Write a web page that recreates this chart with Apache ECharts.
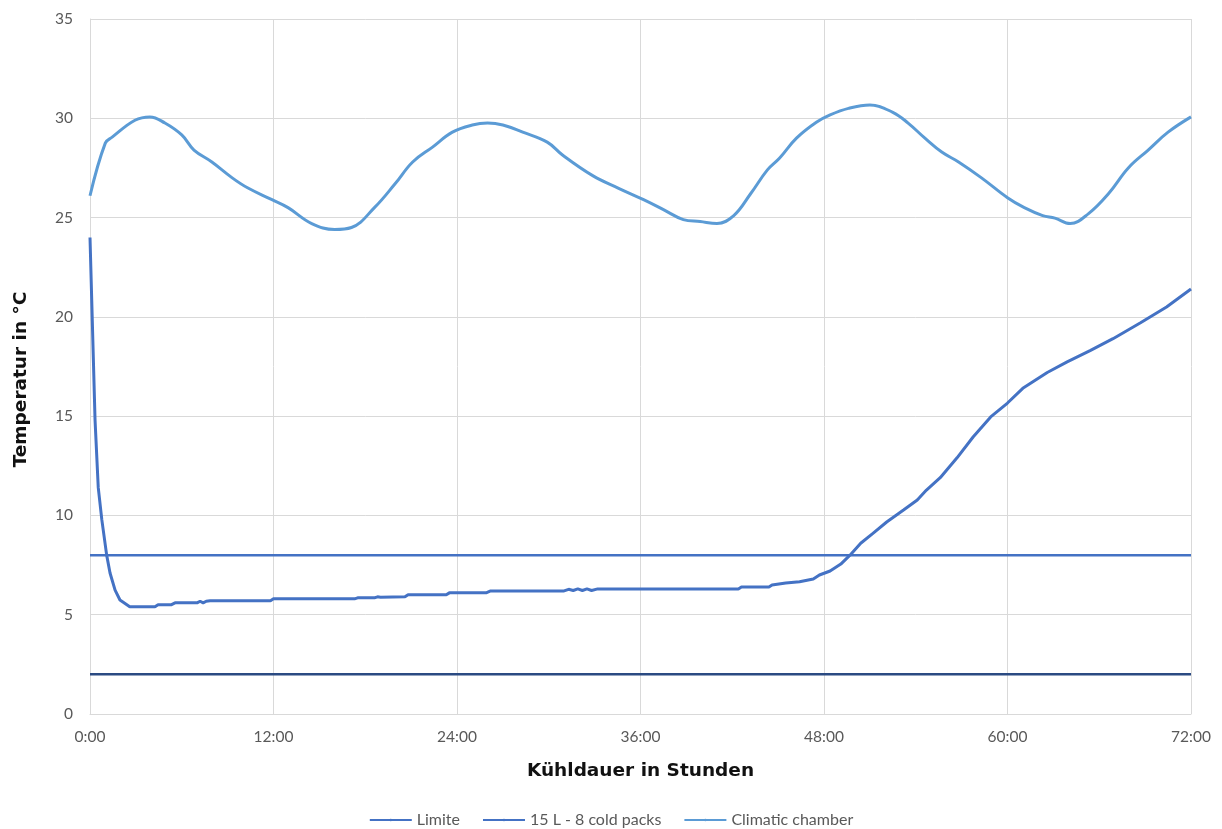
<!DOCTYPE html>
<html>
<head>
<meta charset="utf-8">
<script src="https://cdn.jsdelivr.net/npm/echarts@6/dist/echarts.min.js"></script>
<style>
html,body{margin:0;padding:0;background:#fff;}
#chart{width:1222px;height:829px;}
</style>
</head>
<body>
<div id="chart"></div>
<script>
// ---- Data ----
const seriesNames = ['Limite', '15 L - 8 cold packs', 'Climatic chamber'];
const xTickHours = [0, 12, 24, 36, 48, 60, 72];

const limitHours = [0, 72];
const limitUpper = [8, 8];
const limitLower = [2, 2];

const coldPackHours = [0, 0.15, 0.33, 0.54, 0.77, 1.09, 1.31, 1.64, 1.96, 2.6, 4.25, 4.45, 5.3, 5.56, 7.0, 7.2, 7.4, 7.6, 7.85, 11.8, 12.0, 17.3, 17.5, 18.6, 18.8, 19.0, 20.6, 20.8, 23.3, 23.5, 25.9, 26.2, 31.0, 31.3, 31.6, 31.9, 32.2, 32.5, 32.8, 33.2, 42.4, 42.6, 44.4, 44.6, 45.5, 46.4, 47.3, 47.7, 48.4, 49.1, 49.7, 50.4, 51.2, 52.1, 53.2, 54.1, 54.7, 55.6, 56.7, 57.75, 58.9, 60.0, 61.0, 62.6, 63.9, 65.4, 66.9, 68.7, 70.4, 72];
const coldPackValues = [24.0, 19.8, 14.8, 11.4, 9.8, 8.0, 7.1, 6.24, 5.74, 5.4, 5.4, 5.5, 5.5, 5.6, 5.6, 5.68, 5.6, 5.68, 5.7, 5.7, 5.8, 5.8, 5.85, 5.85, 5.9, 5.88, 5.9, 6.0, 6.0, 6.1, 6.1, 6.2, 6.2, 6.28, 6.22, 6.3, 6.22, 6.3, 6.22, 6.3, 6.3, 6.4, 6.4, 6.5, 6.6, 6.66, 6.8, 7.0, 7.2, 7.55, 8.0, 8.6, 9.1, 9.67, 10.27, 10.78, 11.28, 11.9, 12.9, 13.95, 14.96, 15.66, 16.4, 17.2, 17.73, 18.3, 18.9, 19.7, 20.5, 21.4];

const chamberHours = [0, 1.0, 1.45, 2.94, 3.92, 4.9, 6.0, 6.8, 7.97, 9.3, 10.3, 11.9, 12.95, 14.5, 16.0, 17.1, 18.6, 19.95, 21.1, 22.4, 23.7, 25.0, 26.0, 27.0, 28.3, 29.9, 30.9, 32.9, 34.5, 36.2, 37.5, 38.8, 39.9, 41.0, 42.1, 43.2, 44.3, 45.1, 46.2, 47.5, 48.4, 49.6, 51.0, 52.5, 53.5, 54.6, 55.7, 56.8, 58.3, 60.0, 61.1, 62.3, 63.1, 64.1, 65.3, 66.6, 67.9, 69.2, 70.5, 72];
const chamberValues = [26.1, 28.75, 29.05, 29.9, 30.07, 29.76, 29.16, 28.4, 27.8, 27.0, 26.5, 25.9, 25.5, 24.7, 24.4, 24.5, 25.5, 26.7, 27.8, 28.55, 29.3, 29.66, 29.76, 29.66, 29.3, 28.8, 28.15, 27.1, 26.5, 25.9, 25.4, 24.9, 24.8, 24.7, 25.1, 26.2, 27.4, 28.0, 29.0, 29.8, 30.17, 30.5, 30.67, 30.3, 29.76, 29.0, 28.3, 27.8, 27.0, 26.0, 25.5, 25.1, 24.97, 24.7, 25.2, 26.2, 27.5, 28.4, 29.3, 30.07];

const zip = (xs, ys) => xs.map((x, i) => [x, ys[i]]);

const chart = echarts.init(document.getElementById('chart'));
const tickFont = { color: '#595959', fontSize: 15.5, fontFamily: 'Lato' };
const titleFont = { color: '#111', fontSize: 18.5, fontWeight: 'bold', fontFamily: 'DejaVu Sans' };
chart.setOption({
  animation: false,
  grid: { left: 90, right: 31, top: 19, bottom: 115, containLabel: false, outerBoundsMode: 'none' },
  legend: {
    data: seriesNames,
    top: 807,
    left: 'center',
    itemWidth: 42,
    itemHeight: 3,
    itemGap: 22,
    textStyle: { color: '#595959', fontSize: 16, fontFamily: 'Lato' }
  },
  xAxis: {
    type: 'value',
    min: 0, max: 72, interval: 12,
    name: 'Kühldauer in Stunden',
    nameLocation: 'middle',
    nameGap: 48,
    nameTextStyle: titleFont,
    axisLine: { show: true, lineStyle: { color: '#D9D9D9', width: 1 } },
    axisTick: { show: false },
    axisLabel: Object.assign({ margin: 15, formatter: v => xTickHours.includes(v) ? v + ':00' : '' }, tickFont),
    splitLine: { show: true, lineStyle: { color: '#D9D9D9', width: 1 } }
  },
  yAxis: {
    type: 'value',
    min: 0, max: 35, interval: 5,
    name: 'Temperatur in °C',
    nameLocation: 'middle',
    nameGap: 59,
    nameTextStyle: Object.assign({ padding: [0, 26, 0, 0] }, titleFont),
    axisLine: { show: true, lineStyle: { color: '#D9D9D9', width: 1 } },
    axisTick: { show: false },
    axisLabel: Object.assign({ margin: 17 }, tickFont),
    splitLine: { show: true, lineStyle: { color: '#D9D9D9', width: 1 } }
  },
  series: [
    {
      name: 'Limite', type: 'line', symbol: 'none',
      data: zip(limitHours, limitUpper),
      lineStyle: { color: '#4472C4', width: 2.5 }, itemStyle: { color: '#4472C4' }, z: 3
    },
    {
      name: 'Limite (min)', type: 'line', symbol: 'none',
      data: zip(limitHours, limitLower),
      lineStyle: { color: '#2B4A82', width: 2.5 }, itemStyle: { color: '#2B4A82' }, z: 3
    },
    {
      name: '15 L - 8 cold packs', type: 'line', symbol: 'none',
      data: zip(coldPackHours, coldPackValues),
      lineStyle: { color: '#4472C4', width: 3 }, itemStyle: { color: '#4472C4' }, z: 4
    },
    {
      name: 'Climatic chamber', type: 'line', symbol: 'none', smooth: 0.4,
      data: zip(chamberHours, chamberValues),
      lineStyle: { color: '#5B9BD5', width: 3 }, itemStyle: { color: '#5B9BD5' }, z: 4
    }
  ]
});
</script>
</body>
</html>
